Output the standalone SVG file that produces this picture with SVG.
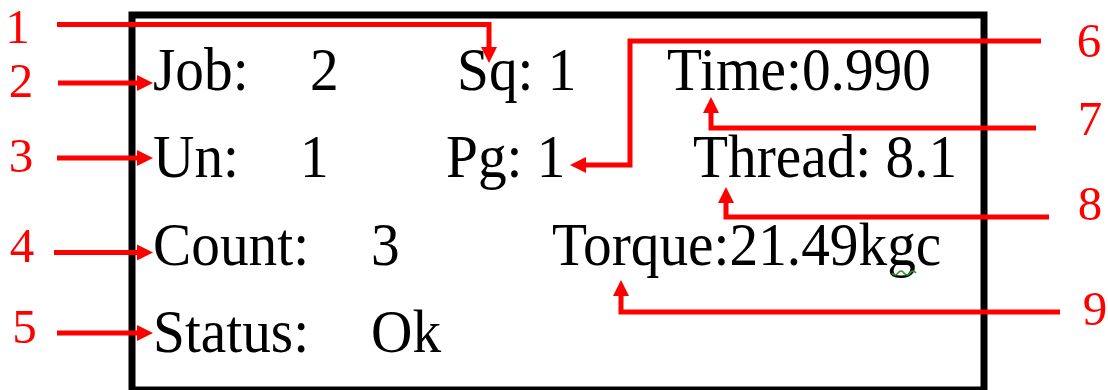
<svg xmlns="http://www.w3.org/2000/svg" width="1108" height="390" viewBox="0 0 1108 390">
  <style>
    .lbl { font-family: "Liberation Serif", "Times New Roman", serif; font-size: 61px; fill: #000; }
    .num { font-family: "Liberation Serif", "Times New Roman", serif; font-size: 49px; fill: #ff0000; text-anchor: middle; }
    .lead { fill: none; stroke: #ff0000; stroke-width: 5; marker-end: url(#head); }
    .frame { fill: none; stroke: #000; stroke-width: 7; }
  </style>
  <defs>
    <marker id="head" markerUnits="userSpaceOnUse" markerWidth="16" markerHeight="16" refX="0" refY="8" orient="auto" overflow="visible">
      <path d="M0,0 L16,8 L0,16 Z" fill="#ff0000"/>
    </marker>
  </defs>

  <rect width="1108" height="390" fill="#fff"/>

  <!-- display panel -->
  <g id="panel">
    <rect class="frame" x="132" y="15" width="852" height="375"/>
  </g>

  <!-- display readouts (narrow serif: glyphs condensed horizontally) -->
  <g id="job">
    <text class="lbl" transform="matrix(0.94 0 0 1 153 90)">Job:</text>
    <text class="lbl" transform="matrix(0.94 0 0 1 310 90)">2</text>
  </g>
  <g id="sq"><text class="lbl" transform="matrix(0.94 0 0 1 457 90)">Sq: 1</text></g>
  <g id="time"><text class="lbl" transform="matrix(0.94 0 0 1 667 90)">Time:0.990</text></g>
  <g id="un">
    <text class="lbl" transform="matrix(0.94 0 0 1 153 177)">Un:</text>
    <text class="lbl" transform="matrix(0.94 0 0 1 300 177)">1</text>
  </g>
  <g id="pg"><text class="lbl" transform="matrix(0.94 0 0 1 446 177)">Pg: 1</text></g>
  <g id="thread"><text class="lbl" transform="matrix(0.94 0 0 1 693 177)">Thread: 8.1</text></g>
  <g id="count">
    <text class="lbl" transform="matrix(0.94 0 0 1 153 265)">Count:</text>
    <text class="lbl" transform="matrix(0.94 0 0 1 371 265)">3</text>
  </g>
  <g id="torque">
    <text class="lbl" transform="matrix(0.94 0 0 1 552 265)">Torque:21.49kgc</text>
    <path d="M892,273 q3,4 6,0 t6,0 t6,0 t6,0" fill="none" stroke="#2e9a2e" stroke-width="1.5"/>
  </g>
  <g id="status">
    <text class="lbl" transform="matrix(0.94 0 0 1 153 352)">Status:</text>
    <text class="lbl" transform="matrix(0.94 0 0 1 371 352)">Ok</text>
  </g>

  <!-- callout numbers -->
  <g id="callouts">
    <text class="num" x="17.5" y="43">1</text>
    <text class="num" x="21" y="97">2</text>
    <text class="num" x="21" y="172">3</text>
    <text class="num" x="22" y="262">4</text>
    <text class="num" x="24.5" y="343">5</text>
    <text class="num" x="1089" y="57">6</text>
    <text class="num" x="1090" y="135">7</text>
    <text class="num" x="1090" y="220">8</text>
    <text class="num" x="1095" y="325">9</text>
  </g>

  <!-- leader arrows -->
  <g id="connectors">
    <path class="lead" d="M57,24.5 H489 V47"/>
    <path class="lead" d="M58,83 H137"/>
    <path class="lead" d="M57,158 H137"/>
    <path class="lead" d="M54,252.5 H137"/>
    <path class="lead" d="M57,333 H137"/>
    <path class="lead" d="M1041,41 H630 V165 H586"/>
    <path class="lead" d="M1036,128 H711 V113"/>
    <path class="lead" d="M1049,217 H726 V203"/>
    <path class="lead" d="M1060,312 H621 V296"/>
  </g>
</svg>
